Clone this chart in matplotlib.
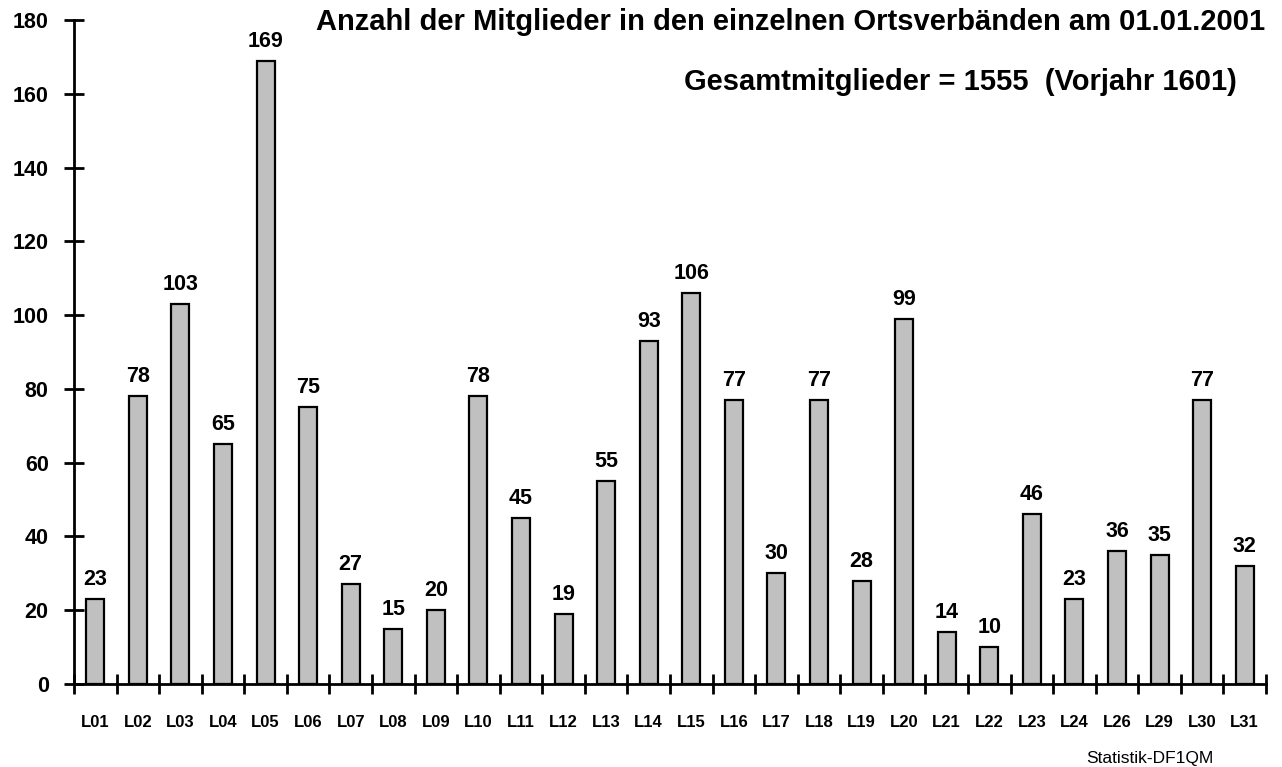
import matplotlib
matplotlib.use("Agg")
import matplotlib.pyplot as plt
import numpy as np

categories = ["L01", "L02", "L03", "L04", "L05", "L06", "L07", "L08", "L09", "L10",
              "L11", "L12", "L13", "L14", "L15", "L16", "L17", "L18", "L19", "L20",
              "L21", "L22", "L23", "L24", "L26", "L29", "L30", "L31"]
values = [23, 78, 103, 65, 169, 75, 27, 15, 20, 78,
          45, 19, 55, 93, 106, 77, 30, 77, 28, 99,
          14, 10, 46, 23, 36, 35, 77, 32]
y_ticks = [0, 20, 40, 60, 80, 100, 120, 140, 160, 180]

plt.rcParams['font.family'] = ['Liberation Sans', 'DejaVu Sans']

fig = plt.figure(figsize=(12.82, 7.67), dpi=100)
ax = fig.add_axes([74/1282, 1-684/767, (1266-74)/1282, (684-20)/767])

x = np.arange(len(categories))
ax.bar(x, values, width=0.42, color="#c0c0c0", edgecolor="black", linewidth=1.6, zorder=3)
for xi, v in zip(x, values):
    ax.annotate(str(v), (xi, v), xytext=(0, 6.5), textcoords="offset points",
                ha="center", va="bottom", fontsize=15.5, fontweight="bold")

ax.set_xlim(-0.5, len(categories) - 0.5)
ax.set_ylim(0, 180)
ax.set_yticks(y_ticks)
ax.set_yticklabels([str(t) for t in y_ticks], fontsize=15.5, fontweight="bold")
ax.set_xticks(x)
ax.set_xticklabels(categories, fontsize=12, fontweight="bold")
ax.set_xticks(np.arange(len(categories) + 1) - 0.5, minor=True)

ax.tick_params(axis="x", which="major", length=0, pad=22)
ax.tick_params(axis="x", which="minor", direction="inout", length=15, width=2)
ax.tick_params(axis="y", which="major", direction="inout", length=14.5, width=2, pad=11)

for s in ["top", "right"]:
    ax.spines[s].set_visible(False)
for s in ["left", "bottom"]:
    ax.spines[s].set_linewidth(2)
    ax.spines[s].set_zorder(4)

fig.text(1265/1282, 1-22/767, "Anzahl der Mitglieder in den einzelnen Ortsverbänden am 01.01.2001",
         ha="right", va="center", fontsize=21, fontweight="bold")
fig.text(1237/1282, 1-82/767, "Gesamtmitglieder = 1555  (Vorjahr 1601)",
         ha="right", va="center", fontsize=21, fontweight="bold")
fig.text(1150/1282, 1-758/767, "Statistik-DF1QM", ha="center", va="center", fontsize=12.5)

fig.savefig("out.png", dpi=100)
